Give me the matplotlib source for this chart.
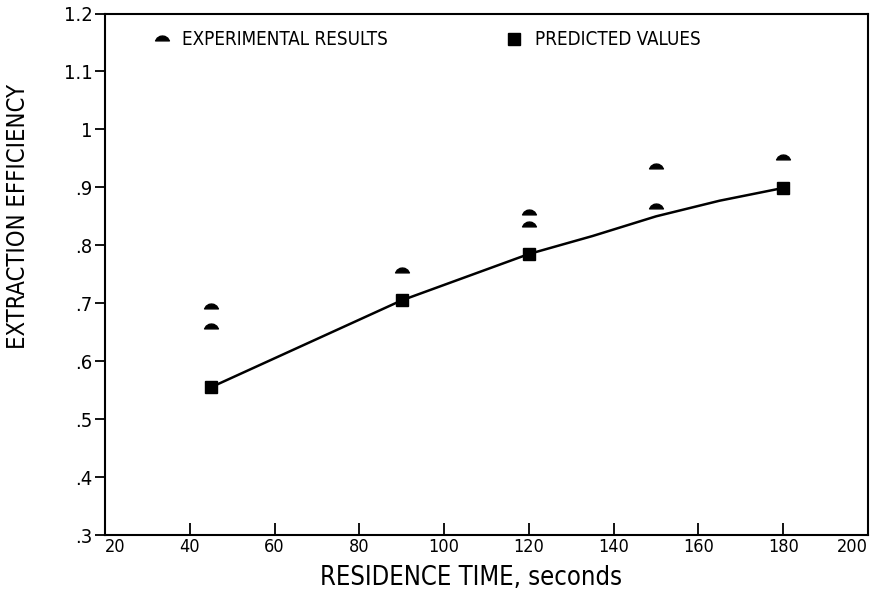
import matplotlib
matplotlib.use("Agg")
import matplotlib.pyplot as plt
from matplotlib.path import Path

# ---- data ----
exp_time = [45, 45, 90, 120, 120, 150, 150, 180]
exp_eff = [0.693, 0.659, 0.755, 0.855, 0.835, 0.935, 0.866, 0.950]

pred_time = [45, 90, 120, 180]
pred_eff = [0.555, 0.705, 0.785, 0.899]

curve_time = [45, 90, 120, 135, 150, 165, 180]
curve_eff = [0.555, 0.705, 0.785, 0.816, 0.850, 0.877, 0.899]

x_ticks = [20, 40, 60, 80, 100, 120, 140, 160, 180, 200]
y_ticks = [0.3, 0.4, 0.5, 0.6, 0.7, 0.8, 0.9, 1.0, 1.1, 1.2]
y_tick_labels = [".3", ".4", ".5", ".6", ".7", ".8", ".9", "1", "1.1", "1.2"]

FONT = "DejaVu Sans"
STRETCH = "condensed"

fig = plt.figure(figsize=(8.8, 5.96), dpi=100)
ax = fig.add_axes([0.1193, 0.1023, 0.8671, 0.875])

dome = Path([(-1.0, -0.2), (-0.75, 0.2), (-0.35, 0.45), (0.0, 0.5),
             (0.35, 0.45), (0.75, 0.2), (1.0, -0.2), (-1.0, -0.2)],
            [Path.MOVETO] + [Path.LINETO] * 6 + [Path.CLOSEPOLY])

ax.plot(curve_time, curve_eff, color="black", lw=1.8, zorder=2)
ax.plot(exp_time, exp_eff, linestyle="none", marker=dome, ms=10,
        color="black", label="EXPERIMENTAL RESULTS", zorder=3)
ax.plot(pred_time, pred_eff, linestyle="none", marker="s", ms=8,
        color="black", label="PREDICTED VALUES", zorder=3)

ax.set_xlim(20, 200)
ax.set_ylim(0.3, 1.2)
ax.set_xticks(x_ticks)
xt = ax.set_xticklabels([str(v) for v in x_ticks], fontfamily=FONT,
                        fontstretch=STRETCH, fontsize=13)
xt[-1].set_horizontalalignment("right")
xt[0].set_horizontalalignment("left")
ax.set_yticks(y_ticks)
ax.set_yticklabels(y_tick_labels, fontfamily=FONT, fontstretch=STRETCH, fontsize=14.5)
ax.tick_params(axis="x", direction="in", length=9, width=1.3, pad=2)
ax.tick_params(axis="y", direction="out", length=7, width=1.3, pad=2)
for s in ax.spines.values():
    s.set_linewidth(1.5)

ax.set_xlabel("RESIDENCE TIME, seconds", fontfamily=FONT, fontstretch=STRETCH,
              fontsize=18.4)
ax.xaxis.set_label_coords(0.48, -0.057)
ax.set_ylabel("EXTRACTION EFFICIENCY", fontfamily=FONT, fontstretch=STRETCH,
              fontsize=17)
ax.yaxis.set_label_coords(-0.098, 0.61)

leg = ax.legend(loc="upper left", bbox_to_anchor=(0.04, 1.0), ncol=2,
                frameon=False, handlelength=1.0, handletextpad=0.6,
                columnspacing=6.2,
                prop={"family": FONT, "stretch": STRETCH, "size": 13.5})

fig.savefig("out.png", dpi=100)
